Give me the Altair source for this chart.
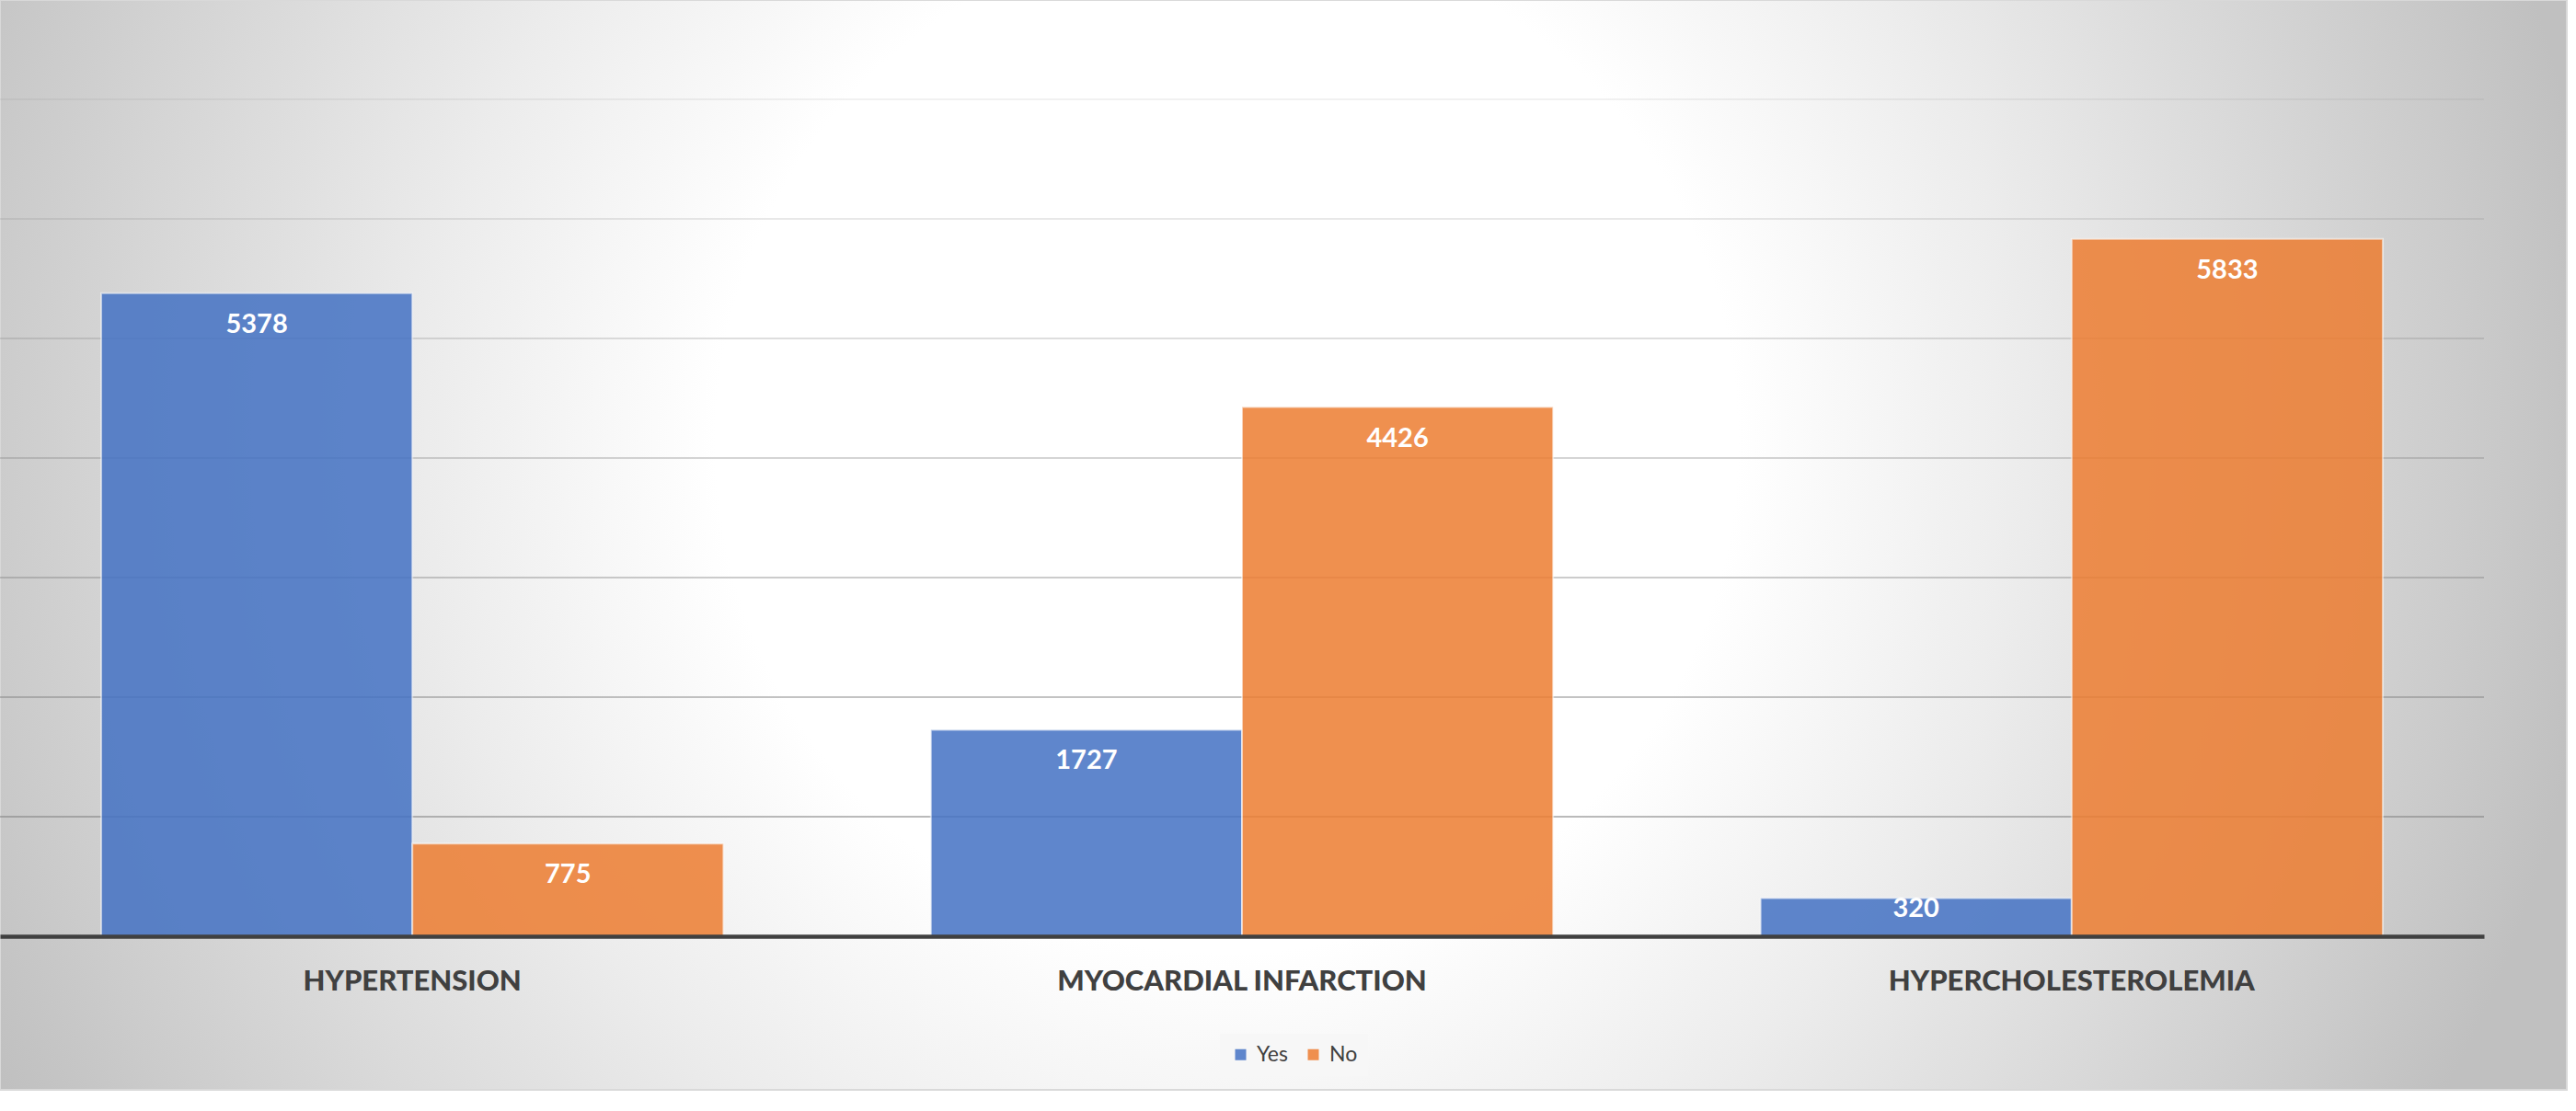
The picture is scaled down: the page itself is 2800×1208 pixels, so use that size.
import altair as alt
import pandas as pd

# ---- data ----
categories = ["HYPERTENSION", "MYOCARDIAL INFARCTION", "HYPERCHOLESTEROLEMIA"]
series = ["Yes", "No"]
yes_values = [5378, 1727, 320]
no_values = [775, 4426, 5833]
grid_ticks = [1000, 2000, 3000, 4000, 5000, 6000, 7000]
series_colors = ["#4472C4", "#ED7D31"]

rows = []
for c, yv, nv in zip(categories, yes_values, no_values):
    rows.append({"category": c, "series": "Yes", "value": yv})
    rows.append({"category": c, "series": "No", "value": nv})
df = pd.DataFrame(rows)

# ---- layout ----
W, H = 2700, 1018
Y_MAX = 7830
PX = H / Y_MAX  # pixels per unit

yscale = alt.Scale(domain=[0, Y_MAX], nice=False, zero=True)

x_enc = alt.X(
    "category:N",
    sort=categories,
    scale=alt.Scale(paddingInner=0.25, paddingOuter=0.122),
    axis=alt.Axis(
        title=None,
        labelFont="Lato",
        labelFontWeight=900,
        labelFontSize=31,
        labelColor="#404040",
        labelAngle=0,
        labelLimit=0,
        labelBaseline="middle",
        labelPadding=49,
        ticks=False,
        tickSize=0,
        grid=False,
        domainColor="#404040",
        domainWidth=4.5,
        zindex=1,
    ),
)
xoff_enc = alt.XOffset("series:N", sort=series,
                       scale=alt.Scale(paddingInner=0, paddingOuter=0))

bg = alt.Chart(alt.Data(values=[{}])).mark_rect(
    fill=alt.RadialGradient(
        gradient="radial",
        stops=[
            alt.GradientStop(color="#ffffff", offset=0),
            alt.GradientStop(color="#ffffff", offset=0.37),
            alt.GradientStop(color="#ececec", offset=0.58),
            alt.GradientStop(color="#cbcbcb", offset=0.9),
            alt.GradientStop(color="#c0c0c0", offset=1),
        ],
        x1=0.478, y1=0.46, r1=0,
        x2=0.478, y2=0.46, r2=0.538,
    ),
    stroke="#d9d9d9",
    strokeWidth=2,
    clip=False,
).encode(x=alt.value(0), x2=alt.value(2790), y=alt.value(0), y2=alt.value(1185))

grid = alt.Chart(pd.DataFrame({"tick": grid_ticks})).mark_rule(
    color="#7f7f7f", strokeWidth=1.5
).encode(
    y=alt.Y("tick:Q", scale=yscale, axis=None),
    x=alt.value(0),
    x2=alt.value(W),
    opacity=alt.Opacity("tick:Q", scale=alt.Scale(domain=[1000, 7000], range=[0.72, 0.15]), legend=None),
)

bars = alt.Chart(df).mark_bar(
    opacity=0.85, stroke="#ffffff", strokeOpacity=0.6, strokeWidth=2
).encode(
    x=x_enc,
    xOffset=xoff_enc,
    y=alt.Y("value:Q", scale=yscale, axis=None),
    color=alt.Color(
        "series:N",
        sort=series,
        scale=alt.Scale(domain=series, range=series_colors),
        legend=alt.Legend(
            orient="none",
            legendX=1326,
            legendY=1124,
            direction="horizontal",
            title=None,
            symbolType="square",
            symbolSize=144,
            symbolStrokeWidth=0,
            symbolOpacity=0.85,
            labelFont="Lato",
            labelFontSize=23,
            labelColor="#404040",
            fillColor="#f7f7f7",
            padding=11,
            columnPadding=16,
            labelOffset=6,
        ),
    ),
)

labels = alt.Chart(df).transform_calculate(
    label_y=f"datum.value > 500 ? datum.value - {34 / PX} : datum.value - {12 / PX}"
).mark_text(
    font="Lato", fontWeight="bold", fontSize=29, color="white",
    baseline="middle", align="center"
).encode(
    x=x_enc,
    xOffset=xoff_enc,
    y=alt.Y("label_y:Q", scale=yscale, axis=None),
    text=alt.Text("value:Q", format="d"),
)

chart = alt.layer(bg, grid, bars, labels).properties(
    width=W,
    height=H,
    autosize=alt.AutoSizeParams(type="none"),
    padding={"left": 0, "top": 0, "right": 100, "bottom": 190},
    background="white",
).configure_view(stroke=None)

chart.save("out.html", embed_options={"renderer": "svg", "actions": False})
